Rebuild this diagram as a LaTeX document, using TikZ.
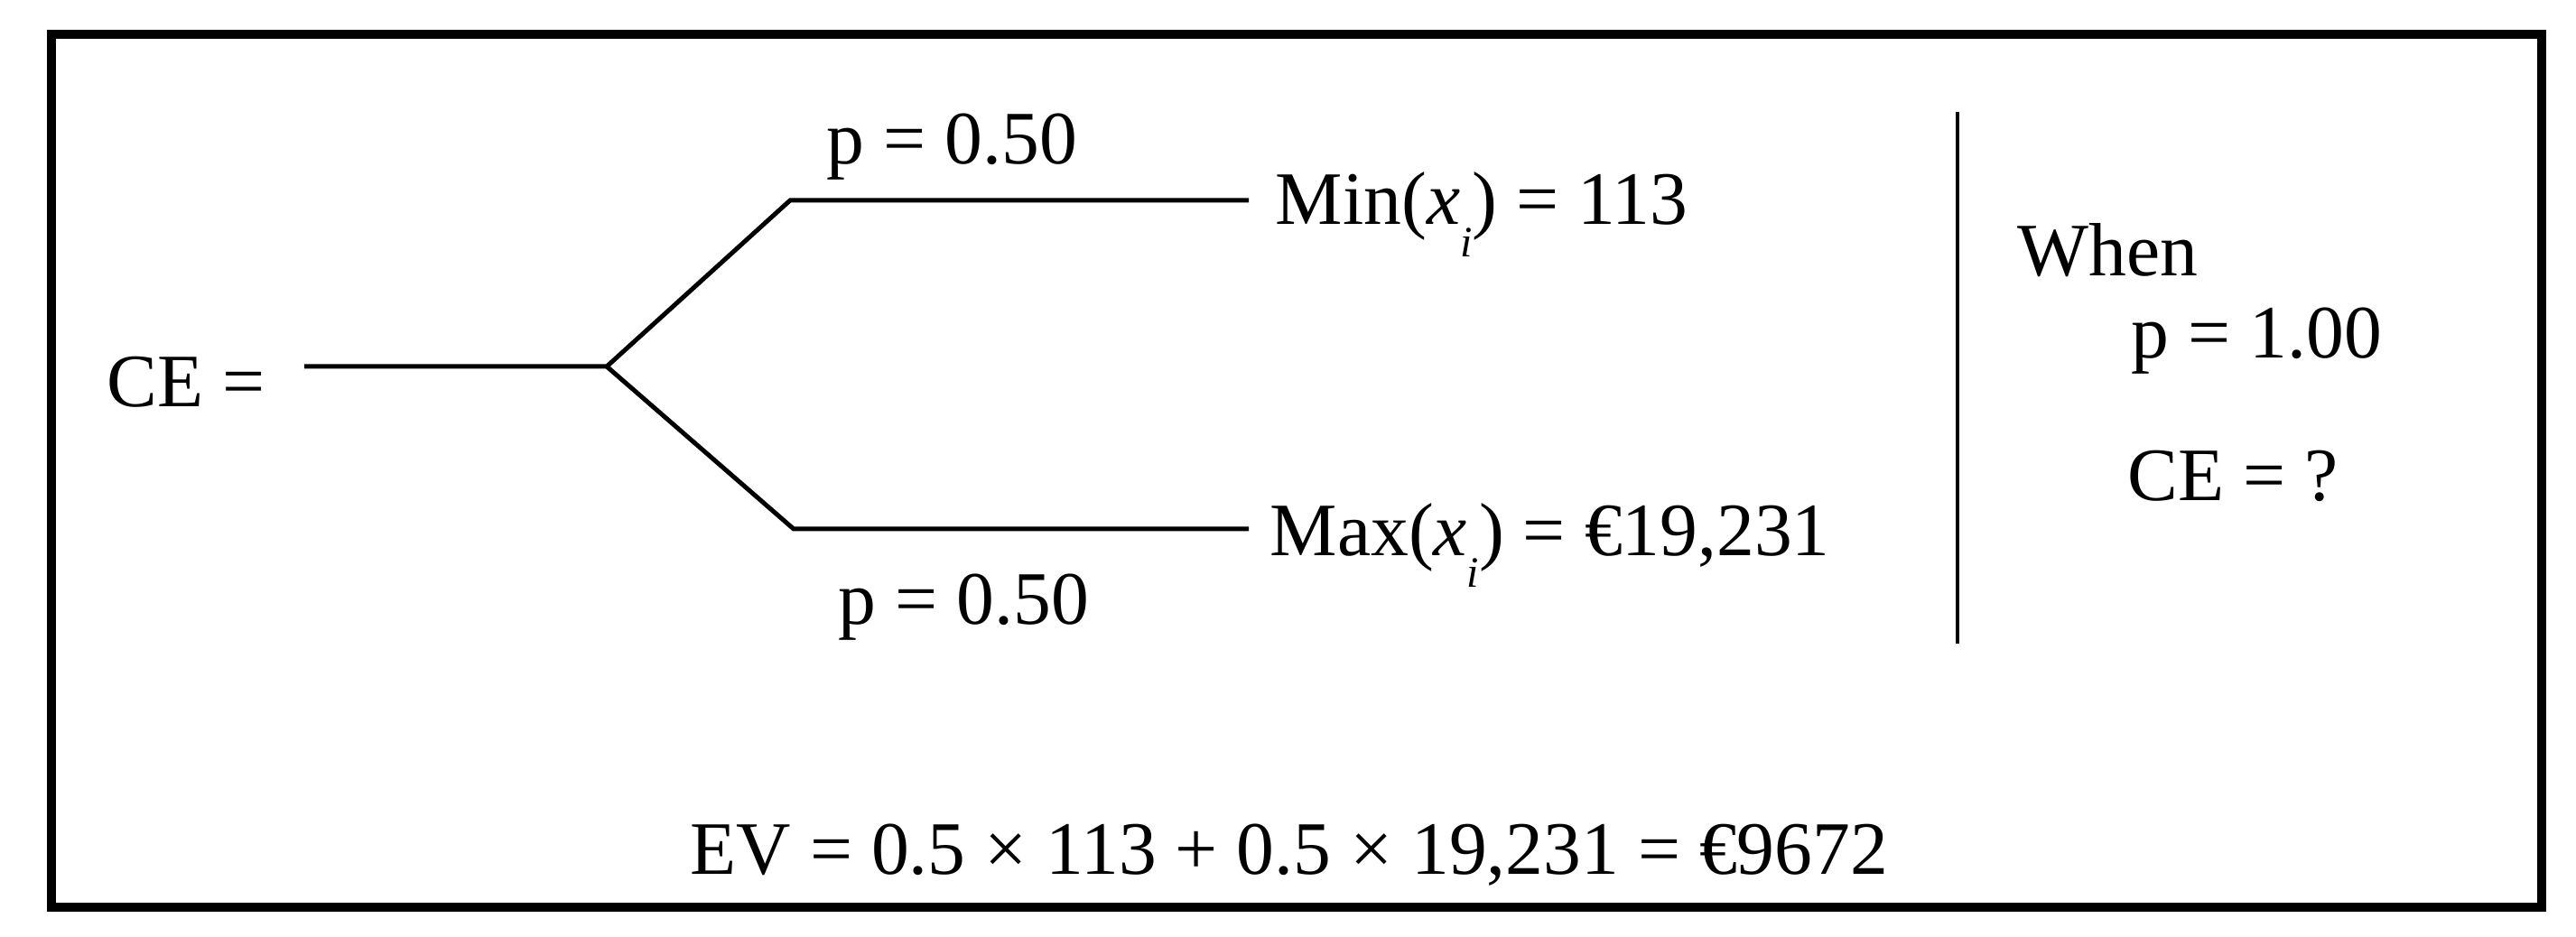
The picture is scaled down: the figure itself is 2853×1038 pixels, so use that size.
\documentclass[tikz,border=0pt]{standalone}
\usepackage{fontspec}
\setmainfont{Liberation Serif}
\newcommand\lowsub[1]{\raisebox{-0.43em}{\fontsize{12}{13}\selectfont\textit{#1}}}
\begin{document}
\begin{tikzpicture}[x=0.25pt,y=-0.25pt,
  lbl/.style={anchor=base west, inner sep=0pt, font=\fontsize{20.9}{24}\selectfont},
  frame/.style={draw, line width=2.5pt},
  tree/.style={draw, line width=1.25pt, line join=miter},
  sep/.style={draw, line width=1.1pt}]
\useasboundingbox (0,0) rectangle (2853,1038);
\draw[frame] (57,38) rectangle (2815,1005);
% texts
\node[lbl] (ce) at (118,451) {CE =};
\node[lbl] (pu) at (915,182) {p = 0.50};
\node[lbl] (pl) at (928,691) {p = 0.50};
\node[lbl] (min) at (1412,249) {Min(\textit{x}\lowsub{i}) = 113};
\node[lbl] (max) at (1406,615) {Max(\textit{x}\lowsub{i}) = €19,231};
\node[lbl] (when) at (2234,306) {When};
\node[lbl] (p1) at (2360,397) {p = 1.00};
\node[lbl] (ceq) at (2356,555) {CE = ?};
\node[lbl] (ev) at (764,968) {EV = 0.5 × 113 + 0.5 × 19,231 = €9672};
% tree
\coordinate (root) at (337,406);
\coordinate (fork) at (672,406);
\coordinate (upA) at (875,222);
\coordinate (upB) at (1383,222);
\coordinate (loA) at (879,586);
\coordinate (loB) at (1383,586);
\draw[tree] (root) -- (fork) -- (upA) -- (upB);
\draw[tree] (fork) -- (loA) -- (loB);
% separator
\coordinate (sepT) at (2168,124);
\coordinate (sepB) at (2168,713);
\draw[sep] (sepT) -- (sepB);
\end{tikzpicture}
\end{document}
